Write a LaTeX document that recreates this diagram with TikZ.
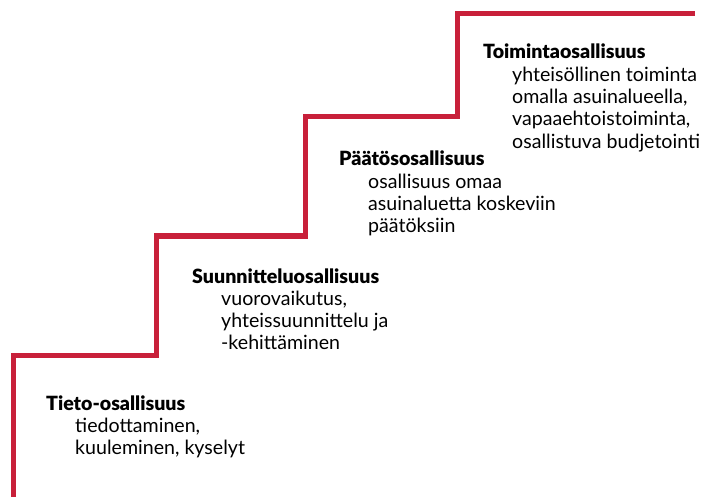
\documentclass[tikz,border=0pt]{standalone}
\usepackage{fontspec}
\setmainfont{Lato}
\newfontfamily\heavyfont{Lato Black}
\usepackage{xcolor}
\usepackage{tikz}
\usetikzlibrary{calc,positioning}
\definecolor{stairred}{HTML}{C8203A}

\begin{document}
\begin{tikzpicture}[x=1pt,y=-1pt,
    steptitle/.style={font=\heavyfont\fontsize{19.6}{22.3}\selectfont,
      inner sep=0pt, anchor=base west},
    stepbody/.style={font=\fontsize{19.6}{22.3}\selectfont,
      inner sep=0pt, anchor=base west, align=left}]
    \useasboundingbox (0,0) rectangle (704,497);
    % the stairs
    \draw[stairred, line width=5pt]
      (13.5,497) |- (156,355.5) |- (305.5,236) |- (457,117) |- (695,14);
    % step 1 (body is anchored on its last line)
    \node[steptitle] (tieto) at (46,410) {Tieto-osallisuus};
    \node[stepbody] (tietotxt) at ($(tieto.base west)+(29,2*22.3)$)
      {tiedottaminen,\\kuuleminen, kyselyt};
    % step 2
    \node[steptitle] (suunnittelu) at (192,283) {Suunnitteluosallisuus};
    \node[stepbody] (suunnittelutxt) at ($(suunnittelu.base west)+(29,3*22.3)$)
      {vuorovaikutus,\\yhteissuunnittelu ja\\-kehittäminen};
    % step 3
    \node[steptitle] (paatos) at (339,166) {Päätösosallisuus};
    \node[stepbody] (paatostxt) at ($(paatos.base west)+(29,3*22.3)$)
      {osallisuus omaa\\asuinaluetta koskeviin\\päätöksiin};
    % step 4
    \node[steptitle] (toiminta) at (483,59) {Toimintaosallisuus};
    \node[stepbody] (toimintatxt) at ($(toiminta.base west)+(29,4*22.3)$)
      {yhteisöllinen toiminta\\omalla asuinalueella,\\vapaaehtoistoiminta,\\osallistuva budjetointi};
\end{tikzpicture}
\end{document}
